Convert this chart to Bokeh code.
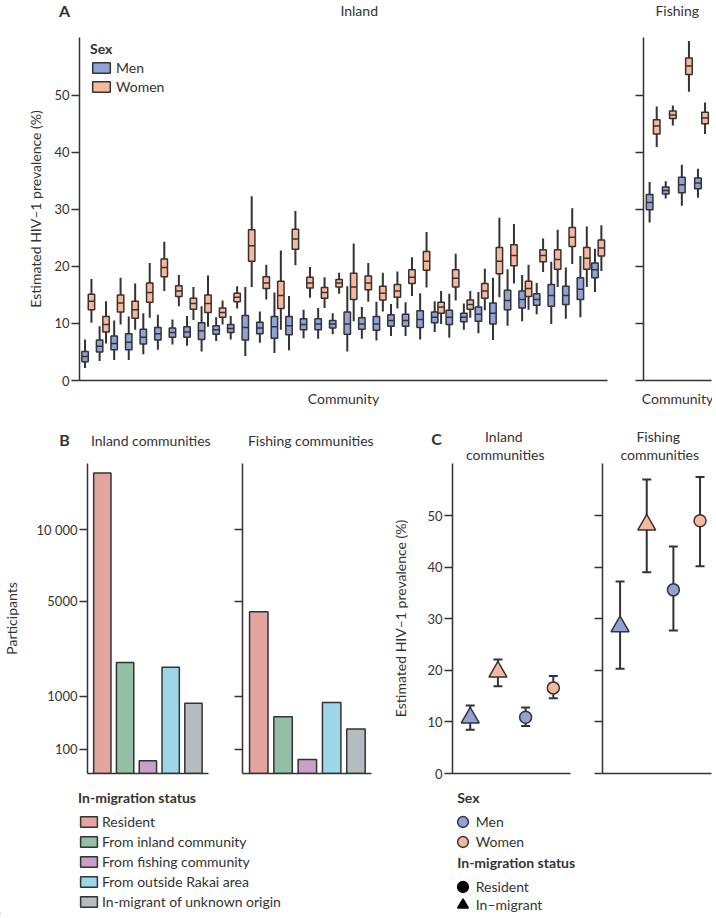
import numpy as np
from bokeh.plotting import figure
from bokeh.models import (Range1d, FixedTicker, ColumnDataSource, Legend, LegendItem,
                          Label, Whisker, TeeHead)
from bokeh.layouts import row, column
from bokeh.embed import file_html
from bokeh.resources import INLINE

FONT = "Lato"
INK = "#333333"
MEN_C = "#8fa3d6"
WOMEN_C = "#f9b89c"

# ---------------- Panel A data: estimated HIV-1 prevalence (%) per community ----------------
# 36 inland communities
inland_men_low = [2.2, 3.4, 3.6, 3.6, 4.6, 5.4, 6.3, 6.1, 5.1, 6.9, 7.2, 4.3, 6.6, 4.8, 5.3, 7.4, 7.3, 8.1,
                  5.1, 7.3, 7.0, 7.8, 7.8, 7.2, 8.5, 7.5, 8.9, 8.3, 7.1, 9.6, 10.4, 11.6, 9.9, 10.8, 11.1, 15.5]
inland_men_q1 = [3.3, 5.0, 5.4, 5.4, 6.4, 7.1, 7.6, 7.6, 7.2, 8.1, 8.4, 7.1, 8.2, 7.4, 8.0, 8.9, 8.9, 9.2,
                 8.1, 9.0, 8.8, 9.5, 9.5, 9.3, 10.1, 9.8, 10.3, 10.4, 9.9, 12.4, 12.7, 13.2, 13.0, 13.3, 14.2, 18.0]
inland_men_med = [4.2, 6.0, 6.5, 6.7, 7.6, 8.2, 8.4, 8.5, 8.7, 8.9, 9.1, 9.3, 9.2, 9.4, 9.6, 9.8, 9.9, 9.9,
                  9.9, 9.9, 9.9, 10.5, 10.5, 10.7, 11.1, 11.1, 11.1, 11.6, 11.8, 14.0, 14.2, 14.2, 14.9, 14.9, 16.0, 19.4]
inland_men_q3 = [5.1, 7.1, 7.8, 8.2, 9.0, 9.3, 9.2, 9.4, 10.1, 9.6, 9.8, 11.4, 10.2, 11.2, 11.2, 10.8, 10.8, 10.5,
                 12.0, 11.0, 11.2, 11.5, 11.6, 12.2, 12.0, 12.3, 11.8, 12.9, 13.6, 15.8, 15.7, 15.2, 16.8, 16.5, 18.0, 20.6]
inland_men_high = [7.2, 9.5, 10.5, 11.2, 11.8, 11.5, 10.7, 11.3, 13.0, 11.1, 11.3, 16.4, 12.1, 15.4, 14.8, 12.4, 12.7, 11.8,
                   16.5, 12.9, 13.8, 13.4, 13.7, 15.3, 13.9, 15.2, 13.5, 15.5, 18.0, 19.5, 18.5, 17.1, 20.8, 19.8, 21.8, 23.1]

inland_women_low = [10.1, 6.5, 9.8, 8.9, 11.0, 15.7, 13.0, 10.6, 9.4, 9.8, 12.6, 16.4, 14.2, 8.9, 20.2, 14.5, 12.7, 15.2,
                    10.4, 13.8, 12.1, 12.6, 14.8, 16.3, 9.9, 14.0, 11.0, 12.3, 14.6, 17.0, 12.4, 19.0, 16.4, 20.4, 16.4, 19.2]
inland_women_q1 = [12.4, 8.5, 12.0, 10.9, 13.7, 18.2, 14.7, 12.5, 11.9, 11.1, 13.8, 20.9, 16.1, 12.6, 23.0, 16.2, 14.4, 16.4,
                   14.2, 15.9, 14.1, 14.6, 17.0, 19.3, 11.8, 16.4, 12.5, 14.4, 18.7, 20.1, 14.7, 20.8, 19.5, 23.5, 19.5, 21.8]
inland_women_med = [13.9, 9.8, 13.6, 12.4, 15.4, 19.8, 15.7, 13.5, 13.5, 11.9, 14.6, 23.6, 17.1, 14.9, 24.8, 17.1, 15.4, 17.1,
                    16.4, 17.1, 15.3, 15.7, 18.1, 20.9, 12.9, 17.9, 13.3, 15.7, 20.9, 21.9, 16.1, 21.9, 21.2, 25.1, 21.4, 23.2]
inland_women_q3 = [15.1, 11.2, 15.0, 13.9, 17.1, 21.3, 16.6, 14.4, 15.0, 12.7, 15.3, 26.4, 18.2, 17.4, 26.5, 18.1, 16.3, 17.7,
                   18.8, 18.3, 16.5, 16.8, 19.4, 22.6, 13.7, 19.4, 14.1, 17.0, 23.3, 23.8, 17.4, 22.9, 22.9, 26.8, 23.3, 24.6]
inland_women_high = [17.8, 13.9, 18.0, 17.0, 20.6, 24.3, 18.5, 16.4, 18.4, 14.0, 16.5, 32.3, 20.3, 22.8, 29.7, 19.9, 18.1, 18.9,
                     24.0, 20.6, 18.9, 19.1, 21.6, 26.0, 15.7, 22.2, 15.7, 19.6, 28.5, 27.4, 20.3, 24.9, 26.4, 30.2, 27.0, 27.2]

# 4 fishing communities
fishing_men_low = [27.7, 31.9, 30.6, 32.0]
fishing_men_q1 = [29.9, 32.7, 32.9, 33.6]
fishing_men_med = [31.2, 33.3, 34.3, 34.6]
fishing_men_q3 = [32.6, 33.9, 35.6, 35.5]
fishing_men_high = [34.8, 34.9, 37.8, 37.1]
fishing_women_low = [40.9, 44.7, 50.6, 43.2]
fishing_women_q1 = [43.2, 45.9, 53.6, 45.0]
fishing_women_med = [44.6, 46.5, 55.1, 46.0]
fishing_women_q3 = [45.7, 47.2, 56.5, 47.0]
fishing_women_high = [48.0, 48.2, 59.5, 48.7]

prev_ticks = [0, 10, 20, 30, 40, 50]

# ---------------- Panel B data: participants by in-migration status ----------------
status_categories = ["Resident", "From inland community", "From fishing community",
                     "From outside Rakai area", "In-migrant of unknown origin"]
inland_participants = [15200, 2070, 27, 1900, 830]
fishing_participants = [4400, 540, 33, 850, 335]
participant_tick_values = [100, 1000, 5000, 10000]
participant_tick_labels = ["100", "1000", "5000", "10 000"]

# ---------------- Panel C data: prevalence by sex and in-migration status ----------------
c_sex = ["Men", "Women", "Men", "Women"]
c_status = ["In-migrant", "In-migrant", "Resident", "Resident"]
inland_est = [10.8, 19.7, 10.9, 16.6]
inland_lo = [8.5, 16.9, 9.2, 14.6]
inland_hi = [13.2, 22.1, 12.8, 18.9]
fishing_est = [28.5, 48.2, 35.6, 49.0]
fishing_lo = [20.3, 39.0, 27.7, 40.2]
fishing_hi = [37.2, 57.0, 44.0, 57.5]

STATUS_COLORS = ["#e3a59f", "#93bfa6", "#c9a0c8", "#9dd6e8", "#b4bbc1"]
SEX_COLORS = {"Men": MEN_C, "Women": WOMEN_C}
STATUS_MARKER = {"In-migrant": "triangle", "Resident": "circle"}
STATUS_SIZE = {"In-migrant": 18, "Resident": 12}


def base_fig(width, height, xr, yr, left, right, top, bottom):
    p = figure(width=width, height=height, x_range=Range1d(*xr), y_range=Range1d(*yr),
               output_backend="svg", toolbar_location=None,
               min_border_left=left, min_border_right=right,
               min_border_top=top, min_border_bottom=bottom)
    p.outline_line_color = None
    p.grid.visible = False
    p.background_fill_color = "white"
    p.border_fill_color = "white"
    for ax in p.axis:
        ax.axis_line_color = INK
        ax.axis_line_width = 1.5
        ax.major_tick_line_color = INK
        ax.major_tick_line_width = 1.5
        ax.major_tick_in = 0
        ax.major_tick_out = 8
        ax.minor_tick_line_color = None
        ax.minor_tick_in = 0
        ax.minor_tick_out = 0
        ax.major_label_text_font = FONT
        ax.major_label_text_font_size = "13px"
        ax.major_label_text_color = INK
        ax.major_label_standoff = 2
        ax.axis_label_text_font = FONT
        ax.axis_label_text_font_size = "14px"
        ax.axis_label_text_font_style = "normal"
        ax.axis_label_text_color = INK
    p.xaxis.ticker = FixedTicker(ticks=[])
    p.xaxis.major_tick_out = 0
    p.xaxis.major_label_standoff = 0
    return p


def blank_fig(width, height):
    p = figure(width=width, height=height, x_range=Range1d(0, 1), y_range=Range1d(0, 1),
               output_backend="svg", toolbar_location=None,
               x_axis_location=None, y_axis_location=None,
               min_border_left=0, min_border_right=0, min_border_top=0, min_border_bottom=0)
    p.outline_line_color = None
    p.grid.visible = False
    return p


def add_text(p, text, x, y, size="14px", bold=False, align="center"):
    p.add_layout(Label(x=x, y=y, x_units="screen", y_units="screen", text=text,
                       text_font=FONT, text_font_size=size,
                       text_font_style="bold" if bold else "normal",
                       text_color=INK, text_align=align, text_baseline="middle"))


def style_legend(lg, glyph_w, glyph_h, label_h, standoff):
    lg.title_text_font = FONT
    lg.title_text_font_size = "14px"
    lg.title_text_font_style = "bold"
    lg.title_text_color = INK
    lg.label_text_font = FONT
    lg.label_text_font_size = "14px"
    lg.label_text_color = INK
    lg.label_height = label_h
    lg.label_standoff = standoff
    lg.glyph_width = glyph_w
    lg.glyph_height = glyph_h
    lg.spacing = 0
    lg.padding = 0
    lg.margin = 0
    lg.border_line_color = None
    lg.background_fill_alpha = 0


def box_layer(p, xs, low, q1, med, q3, high, color, width):
    xs = np.asarray(xs, dtype=float)
    src = ColumnDataSource(dict(x=xs, low=low, q1=q1, med=med, q3=q3, high=high,
                                x0=xs - width / 2, x1=xs + width / 2))
    p.segment(x0="x", y0="low", x1="x", y1="high", source=src, line_color=INK, line_width=2)
    r = p.vbar(x="x", width=width, bottom="q1", top="q3", source=src,
               fill_color=color, line_color=INK, line_width=1.5)
    p.segment(x0="x0", y0="med", x1="x1", y1="med", source=src, line_color=INK, line_width=1.5)
    return r


# ======================= header of panel A =======================
H1 = blank_fig(712, 37)
add_text(H1, "A", 64, 27.5, size="16px", bold=True)
add_text(H1, "Inland", 358.7, 27.5)
add_text(H1, "Fishing", 676.7, 27.5)

# ======================= Panel A =======================
n_in = len(inland_men_med)
pA1 = base_fig(620, 381, (-0.6, 35.64), (0, 60.1), 79, 13, 0, 38)
pA1.yaxis.ticker = FixedTicker(ticks=prev_ticks)
pA1.yaxis.axis_label = "Estimated HIV\u20131 prevalence (%)"
pA1.yaxis.axis_label_standoff = 7
pA1.xaxis.axis_label = "Community"
pA1.xaxis.axis_label_standoff = 9
xi = np.arange(n_in)
men_r = box_layer(pA1, xi - 0.22, inland_men_low, inland_men_q1, inland_men_med, inland_men_q3,
                  inland_men_high, MEN_C, 0.44)
women_r = box_layer(pA1, xi + 0.22, inland_women_low, inland_women_q1, inland_women_med, inland_women_q3,
                    inland_women_high, WOMEN_C, 0.44)
legA = Legend(items=[LegendItem(label="Men", renderers=[men_r]),
                     LegendItem(label="Women", renderers=[women_r])],
              title="Sex", location=(11, 284))
style_legend(legA, 22, 13, 19, 4)
legA.title_standoff = 1
pA1.add_layout(legA)

n_fi = len(fishing_men_med)
pA2 = base_fig(92, 381, (-0.6, 3.62), (0, 60.1), 23, 1, 0, 38)
pA2.yaxis.ticker = FixedTicker(ticks=prev_ticks)
pA2.yaxis.major_label_overrides = {t: "" for t in prev_ticks}
pA2.yaxis.major_label_standoff = 0
pA2.xaxis.axis_label = "Community"
pA2.xaxis.axis_label_standoff = 9
xf = np.arange(n_fi)
box_layer(pA2, xf - 0.22, fishing_men_low, fishing_men_q1, fishing_men_med, fishing_men_q3,
          fishing_men_high, MEN_C, 0.41)
box_layer(pA2, xf + 0.22, fishing_women_low, fishing_women_q1, fishing_women_med, fishing_women_q3,
          fishing_women_high, WOMEN_C, 0.41)

# ======================= header of panels B and C =======================
H2 = blank_fig(712, 45)
add_text(H2, "B", 64, 24.5, size="16px", bold=True)
add_text(H2, "Inland communities", 150.3, 23.5)
add_text(H2, "Fishing communities", 310.3, 23.5)
add_text(H2, "C", 436, 25.5, size="16px", bold=True)
add_text(H2, "Inland", 503.3, 27.5)
add_text(H2, "communities", 504.7, 9.5)
add_text(H2, "Fishing", 657.7, 27.5)
add_text(H2, "communities", 659.2, 9.5)

# ======================= Panel B =======================
b_ticks = [float(np.sqrt(v)) for v in participant_tick_values]


def bar_fig(width, left, right, xr, counts, labels):
    p = base_fig(width, 322, xr, (0, 127.2), left, right, 0, 12)
    p.yaxis.ticker = FixedTicker(ticks=b_ticks)
    p.yaxis.major_label_overrides = {t: (lab if labels else "") for t, lab in zip(b_ticks, participant_tick_labels)}
    src = ColumnDataSource(dict(x=list(range(len(status_categories))),
                                top=np.sqrt(np.asarray(counts, dtype=float)),
                                color=STATUS_COLORS, cat=status_categories))
    p.vbar(x="x", top="top", bottom=0, width=0.76, source=src, fill_color="color",
           line_color=INK, line_width=1.5)
    return p


pB1 = bar_fig(225, 79, 17, (-0.65, 4.66), inland_participants, True)
pB1.yaxis.axis_label = "Participants"
pB1.yaxis.axis_label_standoff = 13

pB2 = bar_fig(156, 17, 10, (-0.67, 4.64), fishing_participants, False)
pB2.yaxis.major_label_standoff = 0

legB_fig = blank_fig(381, 129)
b_items = []
for cat, col in zip(status_categories, STATUS_COLORS):
    r = legB_fig.vbar(x=[-10], top=[-5], bottom=[-6], width=0.5, fill_color=col, line_color=INK, line_width=1.5)
    b_items.append(LegendItem(label=cat, renderers=[r]))
legB = Legend(items=b_items, title="In-migration status", location=(78, 3))
style_legend(legB, 21, 13, 20, 3)
legB.title_standoff = 5
legB_fig.add_layout(legB)

# ======================= Panel C =======================


def point_fig(width, left, right, xr, est, lo, hi, labels):
    p = base_fig(width, 322, xr, (0, 60.1), left, right, 0, 12)
    p.yaxis.ticker = FixedTicker(ticks=prev_ticks)
    if not labels:
        p.yaxis.major_label_overrides = {t: "" for t in prev_ticks}
        p.yaxis.major_label_standoff = 0
    src = ColumnDataSource(dict(x=list(range(len(est))), est=est, lo=lo, hi=hi,
                                color=[SEX_COLORS[s] for s in c_sex],
                                marker=[STATUS_MARKER[s] for s in c_status],
                                size=[STATUS_SIZE[s] for s in c_status]))
    p.add_layout(Whisker(source=src, base="x", upper="hi", lower="lo", line_color=INK, line_width=2,
                         upper_head=TeeHead(size=9, line_color=INK, line_width=2),
                         lower_head=TeeHead(size=9, line_color=INK, line_width=2)))
    p.scatter(x="x", y="est", marker="marker", size="size", fill_color="color",
              line_color=INK, line_width=1.5, source=src)
    return p


pC1 = point_fig(199, 71, 10, (-0.64, 3.62), inland_est, inland_lo, inland_hi, True)
pC1.yaxis.axis_label = "Estimated HIV\u20131 prevalence (%)"
pC1.yaxis.axis_label_standoff = 15

pC2 = point_fig(132, 22, 1, (-0.66, 3.43), fishing_est, fishing_lo, fishing_hi, False)

legC_fig = blank_fig(331, 129)
c_entries = [("Men", "circle", MEN_C, INK, 79.5),
             ("Women", "circle", WOMEN_C, INK, 59.5),
             ("Resident", "circle", "black", "black", 14.5),
             ("In\u2013migrant", "triangle", "black", "black", -3.5)]
for lab, mk, fc, lc, ypos in c_entries:
    r = legC_fig.scatter(x=[-10], y=[-10], marker=mk, fill_color=fc, line_color=lc, line_width=1.5)
    lg = Legend(items=[LegendItem(label=lab, renderers=[r])], location=(67.8, ypos))
    style_legend(lg, 27, 27, 18, 0)
    legC_fig.add_layout(lg)
add_text(legC_fig, "Sex", 75.7, 117, bold=True, align="left")
add_text(legC_fig, "In-migration status", 75.7, 52, bold=True, align="left")

layout = column(
    H1,
    row(pA1, pA2),
    H2,
    row(column(row(pB1, pB2), legB_fig), column(row(pC1, pC2), legC_fig)),
)

open("out.html", "w").write(file_html(layout, INLINE))
